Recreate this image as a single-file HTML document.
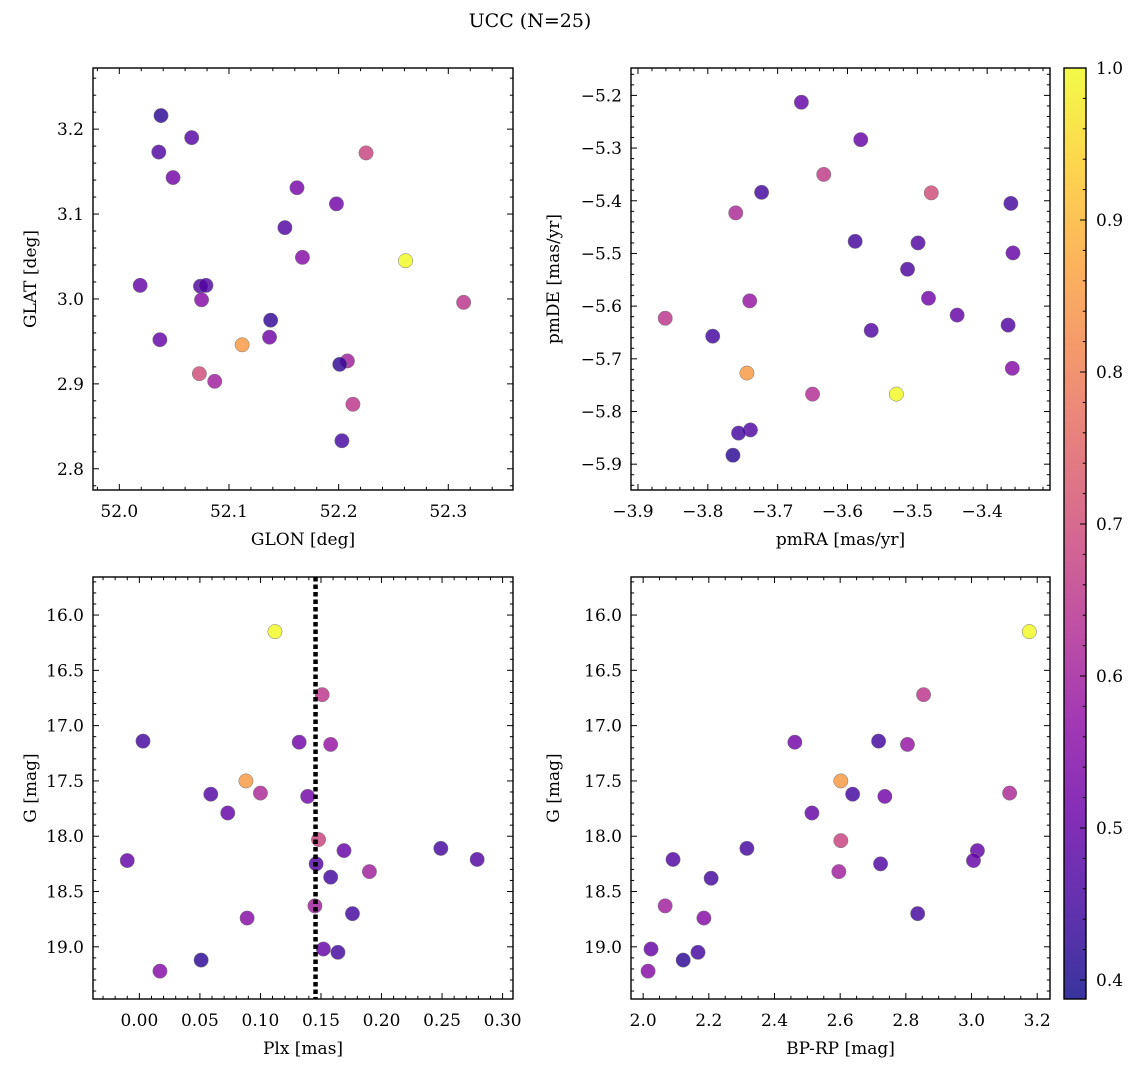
<!DOCTYPE html>
<html><head><meta charset="utf-8">
<style>
html,body{margin:0;padding:0;background:#fff;}
svg{display:block;font-family:"DejaVu Serif","Liberation Serif",serif;}
</style></head>
<body>
<svg id="fig" width="1136" height="1067" viewBox="0 0 1136 1067" xmlns="http://www.w3.org/2000/svg">
<text x="530" y="27" font-size="19" text-anchor="middle">UCC (N=25)</text>
</svg>
<script>
// ---- data ----
const glonVals=[52.038,52.036,52.066,52.049,52.162,52.151,52.198,52.225,52.167,52.261,52.019,52.074,52.079,52.075,52.314,52.138,52.037,52.137,52.112,52.208,52.201,52.073,52.087,52.213,52.203];
const glatVals=[3.216,3.173,3.190,3.143,3.131,3.084,3.112,3.172,3.049,3.045,3.016,3.015,3.016,2.999,2.996,2.975,2.952,2.955,2.946,2.927,2.923,2.912,2.903,2.876,2.833];
const probP1=[0.42,0.47,0.48,0.52,0.53,0.47,0.52,0.68,0.55,1.0,0.5,0.47,0.47,0.55,0.65,0.43,0.5,0.52,0.85,0.6,0.43,0.7,0.6,0.65,0.45];

const pmraVals=[-3.666,-3.581,-3.634,-3.723,-3.480,-3.760,-3.366,-3.589,-3.499,-3.363,-3.514,-3.740,-3.484,-3.443,-3.861,-3.566,-3.370,-3.793,-3.744,-3.364,-3.650,-3.530,-3.739,-3.756,-3.764];
const pmdeVals=[-5.213,-5.284,-5.350,-5.384,-5.385,-5.423,-5.405,-5.477,-5.480,-5.499,-5.530,-5.590,-5.585,-5.617,-5.623,-5.646,-5.636,-5.657,-5.727,-5.718,-5.767,-5.767,-5.835,-5.841,-5.883];
const probP2=[0.5,0.5,0.66,0.45,0.7,0.62,0.45,0.45,0.47,0.5,0.46,0.58,0.52,0.5,0.65,0.47,0.47,0.45,0.85,0.55,0.63,1.0,0.47,0.45,0.42];

const plxVals=[0.112,0.151,0.003,0.132,0.158,0.088,0.059,0.100,0.139,0.073,0.148,0.169,0.249,-0.010,0.146,0.279,0.158,0.190,0.145,0.089,0.176,0.152,0.164,0.051,0.017];
const gVals3=[16.15,16.72,17.14,17.15,17.17,17.50,17.62,17.61,17.64,17.79,18.03,18.13,18.11,18.22,18.25,18.21,18.37,18.32,18.63,18.74,18.70,19.02,19.05,19.12,19.22];
const probP3=[1.0,0.65,0.45,0.52,0.58,0.85,0.47,0.62,0.52,0.5,0.68,0.5,0.45,0.5,0.47,0.47,0.45,0.6,0.6,0.55,0.45,0.5,0.45,0.42,0.55];
const plxRef=[0.1455];

const bprpVals=[3.176,2.854,2.462,2.717,2.805,2.602,2.638,3.116,2.736,2.514,2.602,2.316,3.018,2.091,3.006,2.207,2.723,2.596,2.067,2.185,2.836,2.024,2.167,2.122,2.015];
const gVals4=[16.15,16.72,17.15,17.14,17.17,17.50,17.62,17.61,17.64,17.79,18.04,18.11,18.13,18.21,18.22,18.38,18.25,18.32,18.63,18.74,18.70,19.02,19.05,19.12,19.22];
const probP4=[1.0,0.65,0.52,0.45,0.58,0.85,0.45,0.62,0.52,0.5,0.68,0.45,0.5,0.47,0.5,0.45,0.47,0.6,0.6,0.55,0.45,0.5,0.45,0.42,0.55];

const ticksX1=[52.0,52.1,52.2,52.3], ticksY1=[2.8,2.9,3.0,3.1,3.2];
const ticksX2=[-3.9,-3.8,-3.7,-3.6,-3.5,-3.4], ticksY2=[-5.9,-5.8,-5.7,-5.6,-5.5,-5.4,-5.3,-5.2];
const ticksX3=[0,0.05,0.1,0.15,0.2,0.25,0.3], ticksYG=[16,16.5,17,17.5,18,18.5,19];
const ticksX4=[2.0,2.2,2.4,2.6,2.8,3.0,3.2];
const ticksCbar=[0.4,0.5,0.6,0.7,0.8,0.9,1.0];
const cMin=0.3875, cMax=1.0;

// ---- rendering ----
const NS='http://www.w3.org/2000/svg';
const svg=document.getElementById('fig');
function mk(tag,attrs,parent){const e=document.createElementNS(NS,tag);for(const k in attrs)e.setAttribute(k,attrs[k]);(parent||svg).appendChild(e);return e;}
const plasma=[[13,8,135],[65,4,157],[106,0,168],[143,13,164],[177,42,144],[204,71,120],[225,100,98],[242,132,75],[252,166,54],[252,206,37],[240,249,33]];
function cmap(v){let t=(v-cMin)/(cMax-cMin);t=Math.max(0,Math.min(1,t));const s=t*10,i=Math.min(9,Math.floor(s)),f=s-i;const a=plasma[i],b=plasma[i+1];return 'rgb('+a.map((c,k)=>Math.round(c+(b[k]-c)*f)).join(',')+')';}
function fmt(v,d){return (v<0?'\u2212':'')+Math.abs(v).toFixed(d);}

const panels=[
 {id:'glon-glat',x0:93,y0:68,x1:513,y1:490,xr:[51.976,52.359],yr:[2.775,3.272],xt:ticksX1,yt:ticksY1,xd:1,yd:1,xm:0.02,ym:0.02,xs:glonVals,ys:glatVals,ps:probP1,xl:'GLON [deg]',yl:'GLAT [deg]'},
 {id:'pm',x0:631,y0:68,x1:1050,y1:490,xr:[-3.910,-3.310],yr:[-5.949,-5.148],xt:ticksX2,yt:ticksY2,xd:1,yd:1,xm:0.02,ym:0.02,xs:pmraVals,ys:pmdeVals,ps:probP2,xl:'pmRA [mas/yr]',yl:'pmDE [mas/yr]'},
 {id:'plx-g',x0:93,y0:577,x1:513,y1:999,xr:[-0.0383,0.3086],yr:[19.472,15.656],xt:ticksX3,yt:ticksYG,xd:2,yd:1,xm:0.01,ym:0.1,xs:plxVals,ys:gVals3,ps:probP3,xl:'Plx [mas]',yl:'G [mag]',vline:plxRef},
 {id:'cmd',x0:631,y0:577,x1:1050,y1:999,xr:[1.963,3.239],yr:[19.472,15.656],xt:ticksX4,yt:ticksYG,xd:1,yd:1,xm:0.05,ym:0.1,xs:bprpVals,ys:gVals4,ps:probP4,xl:'BP-RP [mag]',yl:'G [mag]'}
];

panels.forEach(p=>{
  const sx=v=>p.x0+(v-p.xr[0])/(p.xr[1]-p.xr[0])*(p.x1-p.x0);
  const sy=v=>p.y1-(v-p.yr[0])/(p.yr[1]-p.yr[0])*(p.y1-p.y0);
  const g=mk('g',{});
  
  
  // points
  const pts=mk('g',{},g);
  
  
  p.xs.forEach((xv,i)=>{
    const c=mk('circle',{cx:sx(xv),cy:sy(p.ys[i]),r:7.2,fill:cmap(p.ps[i]),'fill-opacity':0.82,stroke:'#777','stroke-width':0.5},pts);
    
    
  });
  if(p.vline){p.vline.forEach(v=>{
    const l=mk('line',{x1:sx(v),x2:sx(v),y1:p.y0,y2:p.y1,stroke:'#000','stroke-width':4.5,'stroke-dasharray':'4.5,3'},g);
    
    
  });}
  // ticks
  const tk=mk('g',{stroke:'#000','stroke-width':1},g);
  
  
  const isMajor=(v,arr)=>arr.some(t=>Math.abs(t-v)<1e-6);
  const xlo=Math.min(...p.xr),xhi=Math.max(...p.xr),ylo=Math.min(...p.yr),yhi=Math.max(...p.yr);
  for(let k=Math.ceil(xlo/p.xm-1e-6);k*p.xm<=xhi+1e-9;k++){const v=k*p.xm;const L=isMajor(v,p.xt)?6:3.2;const X=sx(v);
    mk('line',{x1:X,x2:X,y1:p.y1,y2:p.y1-L},tk);mk('line',{x1:X,x2:X,y1:p.y0,y2:p.y0+L},tk);}
  for(let k=Math.ceil(ylo/p.ym-1e-6);k*p.ym<=yhi+1e-9;k++){const v=k*p.ym;const L=isMajor(v,p.yt)?6:3.2;const Y=sy(v);
    mk('line',{y1:Y,y2:Y,x1:p.x0,x2:p.x0+L},tk);mk('line',{y1:Y,y2:Y,x1:p.x1,x2:p.x1-L},tk);}
  // tick labels
  p.xt.forEach(v=>{const t=mk('text',{x:sx(v)-(v<0?5:0),y:p.y1+27,'font-size':17,'text-anchor':'middle'},g);t.textContent=fmt(v,p.xd);
    });
  p.yt.forEach(v=>{const t=mk('text',{x:p.x0-9,y:sy(v)+6,'font-size':17,'text-anchor':'end'},g);t.textContent=fmt(v,p.yd);
    });
  // frame
  const fr=mk('rect',{x:p.x0,y:p.y0,width:p.x1-p.x0,height:p.y1-p.y0,fill:'none',stroke:'#000','stroke-width':1.4},g);
  
  
  // axis labels
  const xl=mk('text',{x:(p.x0+p.x1)/2,y:p.y1+55,'font-size':17,'text-anchor':'middle'},g);xl.textContent=p.xl;
  
  const yx=p.x0<300?36:559;const yc=(p.y0+p.y1)/2;
  const yl=mk('text',{x:yx,y:yc,'font-size':17,'text-anchor':'middle',transform:'rotate(-90 '+yx+' '+yc+')'},g);yl.textContent=p.yl;
  
});

// colorbar
(function(){
  const x0=1064,x1=1086,y0=68,y1=999;
  const defs=mk('defs',{});
  const gr=mk('linearGradient',{id:'cb',x1:0,y1:1,x2:0,y2:0},defs);
  for(let i=0;i<=20;i++){const v=cMin+(cMax-cMin)*i/20;mk('stop',{offset:(i/20),'stop-color':cmap(v)},gr);}
  const g=mk('g',{});
  
  
  mk('rect',{x:x0,y:y0,width:x1-x0,height:y1-y0,fill:'url(#cb)','fill-opacity':0.82},g);
  const sy=v=>y1-(v-cMin)/(cMax-cMin)*(y1-y0);
  for(let k=Math.ceil(cMin/0.02-1e-6);k*0.02<=cMax+1e-9;k++){const v=k*0.02;const maj=ticksCbar.some(t=>Math.abs(t-v)<1e-6);
    mk('line',{x1:x1,x2:x1-(maj?6:3.2),y1:sy(v),y2:sy(v),stroke:'#000','stroke-width':1},g);}
  ticksCbar.forEach(v=>{const t=mk('text',{x:x1+10,y:sy(v)+6,'font-size':17},g);t.textContent=v.toFixed(1);
    });
  mk('rect',{x:x0,y:y0,width:x1-x0,height:y1-y0,fill:'none',stroke:'#000','stroke-width':1.4},g);
})();
</script>
</body></html>
